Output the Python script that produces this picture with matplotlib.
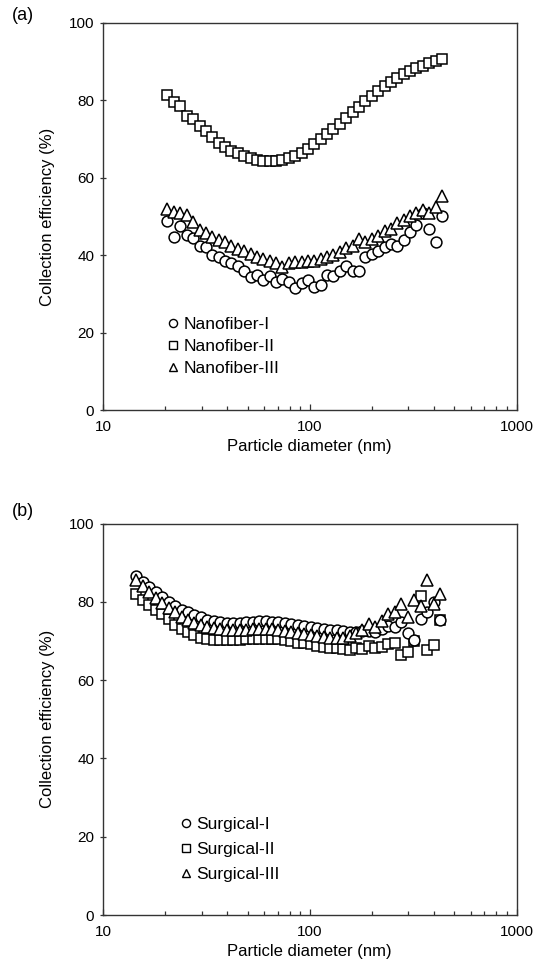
import matplotlib
matplotlib.use("Agg")
import matplotlib.pyplot as plt
from matplotlib.ticker import FixedLocator, NullFormatter

plt.rcParams['font.family'] = ['Liberation Sans', 'DejaVu Sans']

# ---------------- Panel (a) data ----------------
dia_a = [20.5, 22.0, 23.6, 25.4, 27.2, 29.3, 31.4, 33.7, 36.2, 38.9, 41.8, 44.8,
         48.1, 51.7, 55.5, 59.6, 64.0, 68.7, 73.7, 79.2, 85.0, 91.3, 98.0, 105.2,
         113.0, 121.3, 130.2, 139.8, 150.1, 161.2, 173.1, 185.8, 199.5, 214.2,
         230.0, 246.9, 265.1, 284.7, 305.6, 328.2, 352.4, 378.3, 406.2, 436.2]

nanofiber_1 = [48.8, 44.7, 47.5, 45.2, 44.5, 42.5, 42.0, 40.0, 39.6, 38.5, 38.0, 37.3,
               36.0, 34.3, 35.0, 33.5, 34.5, 33.0, 33.8, 33.0, 31.5, 32.8, 33.6, 31.8,
               32.3, 34.8, 34.5, 36.0, 37.3, 36.0, 36.0, 39.5, 40.3, 41.2,
               42.0, 43.0, 42.5, 43.8, 46.0, 47.8, 50.8, 46.8, 43.5, 50.2]

nanofiber_2 = [81.5, 79.5, 78.6, 76.0, 75.2, 73.5, 72.0, 70.5, 69.0, 67.9, 67.0, 66.3,
               65.6, 65.0, 64.6, 64.4, 64.3, 64.4, 64.6, 65.0, 65.7, 66.5, 67.5, 68.7,
               69.9, 71.2, 72.5, 73.9, 75.4, 77.0, 78.4, 79.8, 81.2, 82.4,
               83.6, 84.8, 85.9, 86.8, 87.6, 88.4, 89.0, 89.6, 90.3, 90.6]

nanofiber_3 = [52.0, 51.2, 51.0, 50.5, 48.5, 46.5, 45.8, 44.8, 44.0, 43.3, 42.5, 41.6,
               41.0, 40.2, 39.6, 39.0, 38.5, 38.0, 37.0, 38.0, 38.3, 38.3, 38.5, 38.6,
               39.0, 39.5, 40.0, 40.8, 41.8, 42.5, 44.3, 43.5, 44.2, 45.0,
               46.3, 46.8, 48.2, 49.2, 50.0, 51.0, 51.8, 51.0, 52.5, 55.4]

# ---------------- Panel (b) data ----------------
dia_b = [14.5, 15.6, 16.7, 18.0, 19.3, 20.8, 22.3, 24.0, 25.8, 27.7, 29.8, 32.0,
         34.4, 37.0, 39.7, 42.7, 45.9, 49.3, 53.0, 56.9, 61.2, 65.7, 70.6, 75.9,
         81.5, 87.6, 94.2, 101.2, 108.7, 116.8, 125.6, 134.9, 145.0, 155.8, 167.4, 179.9,
         193.4, 207.8, 223.3, 239.9, 257.9, 277.1, 297.8, 320.0, 343.9, 369.5, 397.1, 426.7]

surgical_1 = [86.7, 85.0, 83.8, 82.6, 81.3, 80.0, 79.0, 78.0, 77.3, 76.6, 76.0, 75.4,
              75.0, 74.8, 74.6, 74.6, 74.7, 74.8, 74.9, 75.0, 75.0, 74.9, 74.8, 74.6,
              74.4, 74.1, 73.9, 73.6, 73.3, 73.1, 72.9, 72.7, 72.5, 72.4, 72.3, 72.5,
              72.6, 72.4, 73.0, 73.8, 73.5, 74.8, 72.0, 70.2, 75.7, 77.4, 79.9, 75.3]

surgical_2 = [82.1, 80.5, 79.1, 77.8, 76.8, 75.5, 74.2, 73.0, 72.3, 71.5, 70.8, 70.5,
              70.3, 70.2, 70.2, 70.2, 70.3, 70.4, 70.5, 70.6, 70.6, 70.5, 70.4, 70.2,
              70.0, 69.6, 69.4, 69.1, 68.8, 68.5, 68.3, 68.1, 67.9, 67.7, 68.2, 68.0,
              68.6, 68.3, 68.5, 69.2, 69.5, 66.3, 67.2, 70.0, 81.6, 67.6, 68.9, 75.3]

surgical_3 = [85.5, 84.0, 82.5, 81.0, 79.8, 78.5, 77.3, 76.2, 75.3, 74.6, 74.0, 73.5,
              73.2, 73.0, 72.8, 72.8, 72.8, 72.9, 73.0, 73.0, 73.0, 73.0, 72.8, 72.6,
              72.4, 72.1, 71.8, 71.5, 71.2, 71.0, 70.8, 70.7, 70.8, 71.3, 72.0, 72.8,
              74.4, 73.5, 75.0, 76.9, 77.5, 79.5, 76.0, 80.4, 79.0, 85.5, 79.5, 82.0]

labels_a = ['Nanofiber-I', 'Nanofiber-II', 'Nanofiber-III']
labels_b = ['Surgical-I', 'Surgical-II', 'Surgical-III']
x_ticks = [10, 100, 1000]
y_ticks = [0, 20, 40, 60, 80, 100]

W, H = 544, 971
fig = plt.figure(figsize=(W / 100, H / 100), dpi=100)

ax_a = fig.add_axes([103 / W, 1 - 410 / H, 413.5 / W, 387 / H])
ax_b = fig.add_axes([103 / W, 1 - 915 / H, 413.5 / W, 391.5 / H])

mk = dict(linestyle='none', markerfacecolor='white', markeredgecolor='black',
          markeredgewidth=1.1)
styles = [('o', 7.8), ('s', 7.5), ('^', 8.6)]


def draw(ax, x, series, labels, leg_anchor, spacing):
    handles = [None, None, None]
    for idx in [1, 0, 2]:
        m, s = styles[idx]
        h, = ax.plot(x, series[idx], marker=m, markersize=s, label=labels[idx], **mk)
        handles[idx] = h
    ax.set_xscale('log')
    ax.set_xlim(10, 1000)
    ax.set_ylim(0, 100)
    ax.xaxis.set_major_locator(FixedLocator(x_ticks))
    ax.set_xticklabels([str(v) for v in x_ticks])
    ax.xaxis.set_minor_locator(FixedLocator(
        [v * m for v in (10, 100) for m in range(2, 10)]))
    ax.xaxis.set_minor_formatter(NullFormatter())
    ax.set_yticks(y_ticks)
    ax.set_yticklabels([str(v) for v in y_ticks])
    ax.tick_params(axis='x', which='major', direction='in', length=4.5, width=0.9,
                   labelsize=11, pad=7, color='#333333')
    ax.tick_params(axis='x', which='minor', direction='in', length=3.2, width=0.9,
                   color='#333333')
    ax.tick_params(axis='y', which='major', direction='inout', length=4.5, width=0.9,
                   labelsize=11, pad=4, color='#333333')
    for sp in ax.spines.values():
        sp.set_color('#333333')
        sp.set_linewidth(1.0)
    ax.set_xlabel('Particle diameter (nm)', fontsize=12, labelpad=4)
    ax.set_ylabel('Collection efficiency (%)', fontsize=12, labelpad=10)
    lg = ax.legend(handles=handles, loc='upper left', bbox_to_anchor=leg_anchor,
                   frameon=False, fontsize=12.5, handlelength=0.7, handletextpad=0.25,
                   borderpad=0, borderaxespad=0, labelspacing=spacing, markerscale=0.75)
    for h in lg.legend_handles:
        h.set_markeredgewidth(1.0)


draw(ax_a, dia_a, [nanofiber_1, nanofiber_2, nanofiber_3], labels_a, (0.155, 0.24), 0.4)
draw(ax_b, dia_b, [surgical_1, surgical_2, surgical_3], labels_b, (0.186, 0.25), 0.55)

fig.text(12 / W, 1 - 15 / H, '(a)', fontsize=13, va='center', ha='left')
fig.text(12 / W, 1 - 512 / H, '(b)', fontsize=13, va='center', ha='left')

fig.savefig('out.png', dpi=100)
